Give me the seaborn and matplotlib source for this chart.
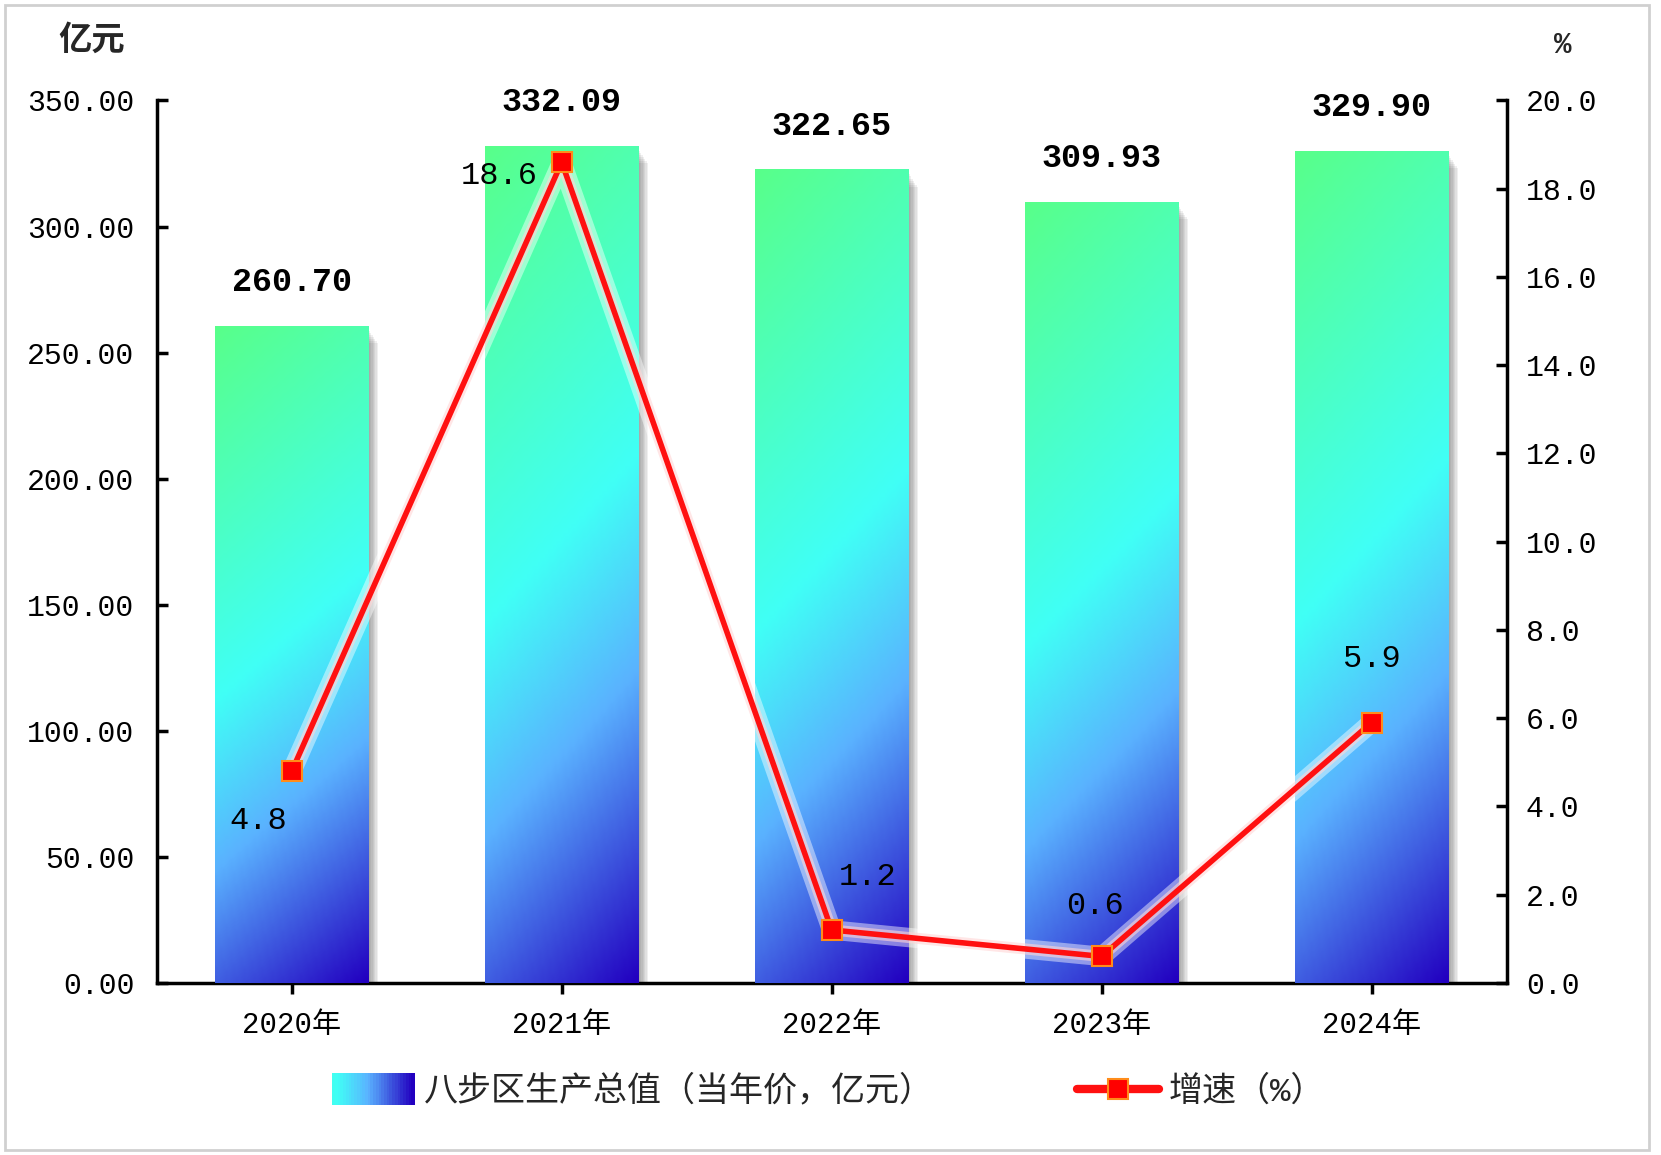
import numpy as np
import pandas as pd
import matplotlib
matplotlib.use('Agg')
import matplotlib.pyplot as plt
import matplotlib.patheffects as pe
from matplotlib.patches import Rectangle
from matplotlib.lines import Line2D
from matplotlib.legend_handler import HandlerBase
from matplotlib.colors import LinearSegmentedColormap
import seaborn as sns

# data
years = ['2020年', '2021年', '2022年', '2023年', '2024年']
gdp = [260.70, 332.09, 322.65, 309.93, 329.90]
growth = [4.8, 18.6, 1.2, 0.6, 5.9]
bar_name = '八步区生产总值（当年价，亿元）'
line_name = '增速（%）'

# label offsets for growth values (points)
growth_offsets = [(-24, -36), (-45, -10), (26, 38), (-5, 36), (0, 46)]

sns.set_theme(style='white')
plt.rcParams['font.family'] = ['Liberation Mono', 'Noto Sans CJK SC', 'DejaVu Sans']
plt.rcParams['axes.unicode_minus'] = False

grad_cmap = LinearSegmentedColormap.from_list('bars', [
    (0.0, '#58ff8a'),
    (0.475, '#40fff6'),
    (0.69, '#5ab2ff'),
    (1.0, '#2200c0'),
])

df = pd.DataFrame({'year': years, 'gdp': gdp, 'growth': growth})

fig = plt.figure(figsize=(16.61, 11.55), dpi=100)
ax = fig.add_axes([0.0944, 0.149, 0.9070 - 0.0944, 0.913 - 0.149])

sns.barplot(data=df, x='year', y='gdp', ax=ax, width=0.57,
            color='#40fff6', saturation=1, edgecolor='none')

# gradient fill + soft shadow for each bar
rows, cols = 200, 60
rr, cc = np.mgrid[0:rows, 0:cols]
tt = (rr / (rows - 1) + 0.2 * cc / (cols - 1)) / 1.2
grad_img = grad_cmap(tt)

for p in ax.patches:
    x0, y0 = p.get_x(), p.get_y()
    w, h = p.get_width(), p.get_height()
    for k in range(7):
        dx = 0.005 * (k + 1)
        ax.add_patch(Rectangle((x0 + dx, y0), w, h - 2 - k * 0.8,
                               facecolor='#505050', alpha=0.09,
                               edgecolor='none', zorder=1))
    p.set_zorder(2)
    im = ax.imshow(grad_img, extent=(x0, x0 + w, y0, y0 + h),
                   aspect='auto', zorder=3, interpolation='bilinear')
    im.set_clip_path(p)

ax.bar_label(ax.containers[0], fmt='%.2f', padding=20,
             fontsize=24, fontweight='bold', color='black')

ax.set_xlim(-0.5, len(years) - 0.5)
ax.set_ylim(0, 350)
ax.set_yticks(np.arange(0, 351, 50))
ax.set_yticklabels([f'{v:.2f}' for v in np.arange(0, 351, 50)])
ax.set_xlabel('')
ax.set_ylabel('')

for s in ['top', 'right']:
    ax.spines[s].set_visible(False)
for s in ['left', 'bottom']:
    ax.spines[s].set_linewidth(2.5)
    ax.spines[s].set_color('black')

ax.tick_params(axis='y', direction='in', length=8, width=2.5,
               labelsize=21.5, pad=16, colors='black', left=True)
ax.tick_params(axis='x', direction='out', length=8, width=2.5,
               labelsize=21, pad=12, colors='black', bottom=True)

# growth line on secondary axis
ax2 = ax.twinx()
xs = np.arange(len(years))
glow = [pe.Stroke(linewidth=14, foreground='white', alpha=0.45),
        pe.Stroke(linewidth=8, foreground='#ffd6d6', alpha=0.6),
        pe.Normal()]
ax2.plot(xs, growth, color='#ff1010', lw=4, zorder=5, path_effects=glow)
ax2.plot(xs, growth, ls='none', marker='s', ms=15,
         mfc='#ff0000', mec='#ff8c1a', mew=1.5, zorder=6)
for xi, v, off in zip(xs, growth, growth_offsets):
    ax2.annotate(f'{v:.1f}', (xi, v), xytext=off, textcoords='offset points',
                 ha='center', va='center', fontsize=23, color='black')

ax2.set_ylim(0, 20)
ax2.set_yticks(np.arange(0, 21, 2))
ax2.set_yticklabels([f'{v:.1f}' for v in np.arange(0, 21, 2)])
ax2.set_xlim(-0.5, len(years) - 0.5)
for s in ['top', 'left', 'bottom']:
    ax2.spines[s].set_visible(False)
ax2.spines['right'].set_linewidth(2.5)
ax2.spines['right'].set_color('black')
ax2.tick_params(axis='y', direction='in', length=8, width=2.5,
                labelsize=21.5, pad=14, colors='black', right=True)
ax2.grid(False)
ax.grid(False)

# unit labels
fig.text(0.055, 0.965, '亿元', ha='center', va='center',
         fontsize=24, fontweight='bold')
fig.text(0.941, 0.961, '%', ha='center', va='center',
         fontsize=21, fontweight='bold')


# legend with a gradient swatch
class HandlerGrad(HandlerBase):
    def create_artists(self, legend, orig_handle, xdescent, ydescent,
                       width, height, fontsize, trans):
        n = 30
        arts = []
        for i in range(n):
            c = grad_cmap(0.45 + 0.55 * i / (n - 1))
            arts.append(Rectangle((-xdescent + width * i / n, -ydescent - 3),
                                  width / n + 0.5, height + 6,
                                  facecolor=c, edgecolor='none',
                                  transform=trans))
        return arts


bar_handle = Rectangle((0, 0), 1, 1)
line_handle = Line2D([0], [0], color='#ff1010', lw=6, marker='s', ms=15,
                     mfc='#ff0000', mec='#ff8c1a', mew=1.5)
fig.legend([bar_handle, line_handle], [bar_name, line_name],
           handler_map={Rectangle: HandlerGrad()},
           loc='center', bbox_to_anchor=(0.499, 0.055), ncol=2,
           frameon=False, fontsize=24.5, handlelength=2.4,
           handletextpad=0.3, columnspacing=4.2)

fig.patches.append(Rectangle((0.003, 0.004), 0.99, 0.992,
                             transform=fig.transFigure, fill=False,
                             edgecolor='#d0d0d0', lw=2))

fig.savefig('out.png', dpi=100)
